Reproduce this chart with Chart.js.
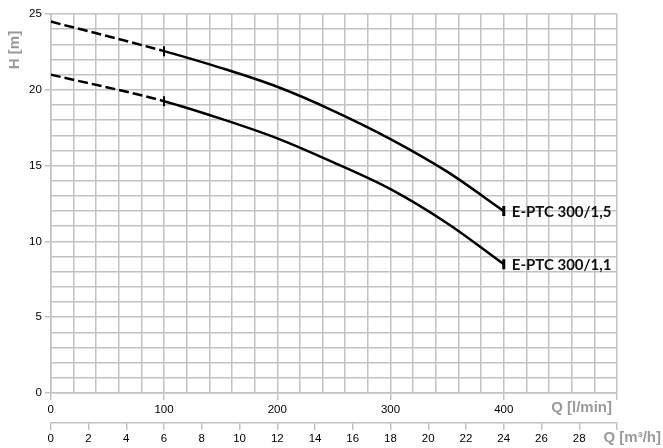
<!DOCTYPE html>
<html>
<head>
<meta charset="utf-8">
<script src="https://cdn.jsdelivr.net/npm/chart.js@4.4.1/dist/chart.umd.min.js"></script>
<style>
  html, body { margin: 0; padding: 0; background: #fff; }
  #wrap { width: 663px; height: 448px; }
</style>
</head>
<body>
<div id="wrap"><canvas id="myChart"></canvas></div>
<script>
// flow in l/min, head in m
const flowLmin = [0, 100, 150, 200, 250, 300, 350, 400];
const head15 = [24.5, 22.55, 21.45, 20.2, 18.6, 16.75, 14.6, 12.0];
const head11 = [21.0, 19.25, 18.1, 16.8, 15.2, 13.45, 11.2, 8.5];
const pumpNames = ['E-PTC 300/1,5', 'E-PTC 300/1,1'];
const flowLabels = [0, 100, 200, 300, 400];
const m3hLabels = [0, 2, 4, 6, 8, 10, 12, 14, 16, 18, 20, 22, 24, 26, 28];
const headLabels = [0, 5, 10, 15, 20, 25];

const gridColor = '#c2c2c2';
const titleColor = '#9a9a9a';
const tickFont = { family: 'Liberation Sans', size: 11.5 };

function pts(ys) {
  return flowLmin.map((x, i) => ({ x: x, y: ys[i] }));
}
function pumpDataset(name, ys) {
  const last = flowLmin.length - 1;
  return {
    label: name,
    data: pts(ys),
    borderColor: '#000',
    borderWidth: 2.5,
    cubicInterpolationMode: 'monotone',
    pointStyle: 'line',
    rotation: 90,
    pointRadius: flowLmin.map((x, i) => (i === 1 ? 5 : (i === last ? 5 : 0))),
    pointBorderWidth: flowLmin.map((x, i) => (i === last ? 3 : 2)),
    pointBorderColor: '#000',
    segment: {
      borderDash: c => (c.p1DataIndex <= 1 ? [10, 4] : undefined)
    }
  };
}

const curveLabels = {
  id: 'curveLabels',
  afterDatasetsDraw(chart) {
    const ctx = chart.ctx;
    ctx.save();
    ctx.fillStyle = '#111';
    ctx.font = 'bold 15px Lato';
    ctx.textBaseline = 'middle';
    chart.data.datasets.forEach((ds, i) => {
      const meta = chart.getDatasetMeta(i);
      const p = meta.data[meta.data.length - 1];
      ctx.fillText(ds.label, p.x + 8, p.y + 1);
    });
    ctx.restore();
  }
};

const axisTitles = {
  id: 'axisTitles',
  afterDraw(chart) {
    const ctx = chart.ctx;
    const a = chart.chartArea;
    ctx.save();
    ctx.fillStyle = titleColor;
    ctx.font = 'bold 15px "Liberation Sans"';
    ctx.textBaseline = 'middle';
    // H [m]
    ctx.save();
    ctx.translate(15, 50);
    ctx.rotate(-Math.PI / 2);
    ctx.textAlign = 'center';
    ctx.fillText('H [m]', 0, 0);
    ctx.restore();
    // Q [l/min]
    ctx.textAlign = 'right';
    ctx.fillText('Q [l/min]', a.right - 5, chart.scales.x.top + 15);
    // Q [m3/h]
    ctx.fillText('Q [m³/h]', chart.width - 2, chart.scales.q.top + 15);
    ctx.restore();
  }
};

new Chart(document.getElementById('myChart'), {
  type: 'line',
  data: {
    datasets: [pumpDataset(pumpNames[0], head15), pumpDataset(pumpNames[1], head11)]
  },
  options: {
    responsive: true,
    maintainAspectRatio: false,
    animation: false,
    events: [],
    layout: { padding: { top: 14, left: 26, right: 46, bottom: 3 } },
    plugins: { legend: { display: false }, tooltip: { enabled: false } },
    scales: {
      x: {
        type: 'linear',
        position: 'bottom',
        min: 0,
        max: 500,
        afterFit: s => { s.height = 30; },
        ticks: {
          stepSize: 20,
          autoSkip: false,
          maxRotation: 0,
          color: '#000',
          font: tickFont,
          padding: 3,
          callback: v => (flowLabels.includes(v) ? String(v) : '')
        },
        grid: {
          color: gridColor,
          lineWidth: 1.5,
          tickLength: 7,
          tickColor: c => (c.tick && c.tick.value % 100 === 0 ? gridColor : 'transparent')
        },
        border: { color: gridColor, width: 1.5 }
      },
      q: {
        type: 'linear',
        position: 'bottom',
        min: 0,
        max: 30,
        afterFit: s => { s.height = 22; },
        ticks: {
          stepSize: 2,
          autoSkip: false,
          maxRotation: 0,
          color: '#000',
          font: tickFont,
          padding: 2,
          callback: v => (m3hLabels.includes(v) ? String(v) : '')
        },
        grid: {
          drawOnChartArea: false,
          color: gridColor,
          lineWidth: 1.5,
          tickLength: 7
        },
        border: { color: gridColor, width: 1.5 }
      },
      y: {
        type: 'linear',
        min: 0,
        max: 25,
        ticks: {
          stepSize: 1,
          autoSkip: false,
          color: '#000',
          font: tickFont,
          padding: 3,
          callback: v => (headLabels.includes(v) ? String(v) : '')
        },
        grid: {
          color: gridColor,
          lineWidth: 1.5,
          tickLength: 6,
          tickColor: c => (c.tick && c.tick.value % 5 === 0 ? gridColor : 'transparent')
        },
        border: { color: gridColor, width: 1.5 }
      }
    }
  },
  plugins: [curveLabels, axisTitles]
});
</script>
</body>
</html>
